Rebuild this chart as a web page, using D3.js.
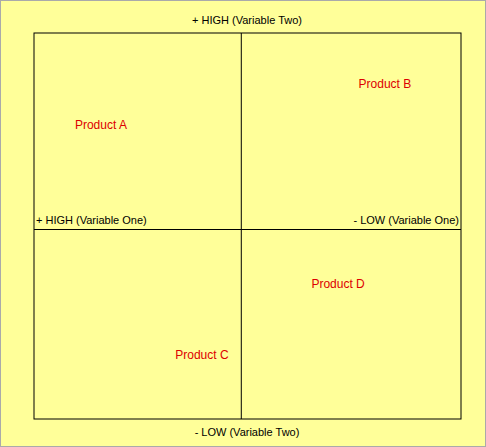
<!DOCTYPE html>
<html><head><meta charset="utf-8">
<script src="https://cdn.jsdelivr.net/npm/d3@7"></script>
<style>body{margin:0;background:#fff}</style>
</head><body><svg></svg>
<script>
// product positions: x = variable one (+1 high .. -1 low), y = variable two
const products = ["Product A", "Product B", "Product C", "Product D"];
const varOne = [0.677, -0.693, 0.19, -0.467];
const varTwo = [0.55, 0.77, -0.66, -0.29];
const axisLabels = ["+ HIGH (Variable Two)", "- LOW (Variable Two)", "+ HIGH (Variable One)", "- LOW (Variable One)"];

const W = 486, H = 447;
const svg = d3.select('svg').attr('width', W).attr('height', H)
    .style('font-family', 'Liberation Sans, Arial, sans-serif');

svg.append('rect').attr('x', 0.5).attr('y', 0.5).attr('width', W - 1).attr('height', H - 1)
    .attr('fill', '#ffff99').attr('stroke', '#aaa');

const pL = 34, pR = 461, pT = 33, pB = 419;
const x = d3.scaleLinear().domain([1.06, -1]).range([pR, pL]);
const y = d3.scaleLinear().domain([-1, 1]).range([pB, pT + 7]);

svg.append('rect').attr('x', pL).attr('y', pT).attr('width', pR - pL).attr('height', pB - pT)
    .attr('fill', 'none').attr('stroke', '#000');
svg.append('line').attr('x1', x(0)).attr('x2', x(0)).attr('y1', pT).attr('y2', pB).attr('stroke', '#000');
svg.append('line').attr('x1', pL).attr('x2', pR).attr('y1', y(0)).attr('y2', y(0)).attr('stroke', '#000');

const ax = svg.append('g').attr('font-size', 11).attr('fill', '#000');
ax.append('text').attr('x', 247).attr('y', 24).attr('text-anchor', 'middle').text(axisLabels[0]);
ax.append('text').attr('x', 247).attr('y', 436).attr('text-anchor', 'middle').text(axisLabels[1]);
ax.append('text').attr('x', pL + 2).attr('y', y(0) - 6).text(axisLabels[2]);
ax.append('text').attr('x', pR - 2).attr('y', y(0) - 6).attr('text-anchor', 'end').text(axisLabels[3]);

svg.selectAll('text.prod').data(products).enter().append('text')
    .attr('class', 'prod')
    .attr('x', (d, i) => x(-varOne[i]))
    .attr('y', (d, i) => y(varTwo[i]) + 4)
    .attr('text-anchor', 'middle')
    .attr('font-size', 12).attr('fill', '#dd0000')
    .text(d => d);
</script></body></html>
